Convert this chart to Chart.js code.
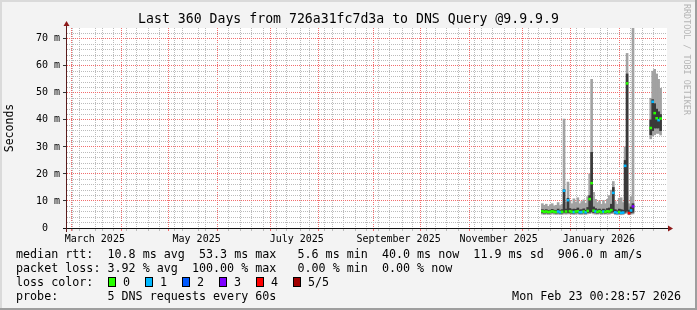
<!DOCTYPE html>
<html>
<head>
<meta charset="utf-8">
<script src="https://cdn.jsdelivr.net/npm/chart.js@4.4.1/dist/chart.umd.min.js"></script>
<style>
  html, body { margin: 0; padding: 0; background: #f3f3f3; }
  #wrap { position: relative; width: 697px; height: 310px; overflow: hidden; font-family: 'DejaVu Sans Mono', monospace; color: #000; }
  #wrap canvas { position: absolute; left: 0; top: 0; }
  .title { position: absolute; left: 0; top: 11px; width: 697px; text-align: center; font-size: 13.2px; line-height: 16px; white-space: pre; }
  .mark { position: absolute; left: 682px; top: 4px; writing-mode: vertical-rl; font-size: 8.4px; line-height: 10px; color: #b4b4b4; white-space: pre; }
  .leg { position: absolute; left: 16px; font-size: 11.7px; line-height: 14px; white-space: pre; }
  .box { position: absolute; width: 6px; height: 8px; border: 1px solid #000; }
  .date { position: absolute; right: 16px; top: 289px; font-size: 11.7px; line-height: 14px; white-space: pre; }
</style>
</head>
<body>
<div id="wrap">
  <canvas id="chart" width="697" height="310"></canvas>
  <div class="title">Last 360 Days from 726a31fc7d3a to DNS Query @9.9.9.9</div>
  <div class="mark">RRDTOOL / TOBI OETIKER</div>
  <div class="leg" style="top:247px">median rtt:  10.8 ms avg  53.3 ms max   5.6 ms min  40.0 ms now  11.9 ms sd  906.0 m am/s</div>
  <div class="leg" style="top:261px">packet loss: 3.92 % avg  100.00 % max   0.00 % min  0.00 % now</div>
  <div class="leg" style="top:275px" id="lossRow">loss color:</div>
  <div class="leg" style="top:289px">probe:       5 DNS requests every 60s</div>
  <div class="date">Mon Feb 23 00:28:57 2026</div>
</div>
<script>
// x axis is in days counted from 2025-02-28 00:00, window = last 360 days
const xMin = 0.78, xMax = 360.78;
const monthStarts = [1, 32, 62, 93, 123, 154, 185, 215, 246, 276, 307, 338];
const labelDays = [15, 77, 138, 200, 261, 322];
const monthLabels = ['March 2025', 'May 2025', 'July 2025', 'September 2025', 'November 2025', 'January 2026'];

// smokeping samples (ms)
const days = [287.6, 288.8, 290.0, 291.2, 292.4, 293.6, 294.8, 296.0, 297.2, 298.4,
  299.6, 300.8, 302.0, 303.2, 304.4, 305.6, 306.8, 308.0, 309.2, 310.4,
  311.6, 312.8, 314.0, 315.2, 316.4, 317.6, 318.8, 320.0, 321.2, 322.4,
  323.6, 324.8, 326.0, 327.2, 328.4, 329.6, 330.8, 332.0, 333.2, 334.4,
  335.6, 336.8, 338.0, 339.2, 340.4, 341.6, 342.8,
  353.6, 354.8, 356.0, 357.2, 358.4, 359.6];
const median = [6.2, 6.0, 6.1, 5.9, 6.0, 6.2, 6.0, 5.9, 6.1, 5.8,
  6.0, 13.8, 6.1, 10.3, 6.2, 6.0, 5.9, 6.1, 6.2, 5.8,
  5.9, 6.1, 5.8, 6.3, 10.7, 16.6, 6.4, 6.1, 6.0, 6.2,
  5.9, 6.1, 6.0, 6.2, 6.1, 6.6, 13.0, 5.8, 5.6, 5.9,
  5.6, 5.7, 23.0, 53.5, 5.5, 6.5, 8.0,
  37.0, 46.7, 42.5, 40.6, 39.9, 40.5];
const loss = [0, 0, 0, 0, 0, 0, 0, 0, 1, 1,
  0, 1, 0, 1, 0, 0, 1, 0, 0, 1,
  1, 0, 1, 0, 0, 0, 0, 1, 0, 0,
  0, 1, 0, 0, 0, 0, 1, 1, 1, 0,
  1, 1, 1, 0, 4, 1, 3,
  0, 1, 0, 0, 1, 0];
const smokeLo = [5.1, 5.0, 5.1, 5.0, 5.0, 5.2, 5.1, 5.0, 5.1, 5.0,
  5.0, 5.2, 5.1, 5.2, 5.2, 5.1, 5.0, 5.1, 5.2, 5.0,
  5.0, 5.1, 5.0, 5.2, 5.3, 5.5, 5.2, 5.1, 5.1, 5.2,
  5.0, 5.1, 5.1, 5.2, 5.1, 5.3, 5.4, 5.0, 4.9, 5.0,
  4.9, 5.0, 5.3, 5.6, 4.9, 5.1, 5.2,
  33.0, 34.0, 34.5, 35.0, 35.0, 34.4];
const smokeHi = [9.0, 8.4, 8.8, 8.0, 8.6, 9.0, 8.2, 8.4, 9.4, 8.3,
  8.8, 40.3, 9.6, 17.0, 10.2, 9.0, 10.8, 9.6, 11.2, 9.0,
  9.8, 10.4, 9.2, 11.6, 20.0, 55.0, 13.2, 10.6, 9.4, 10.0,
  8.8, 10.2, 9.0, 10.6, 12.0, 14.0, 17.2, 9.8, 8.8, 11.0,
  11.2, 9.4, 30.0, 64.6, 9.0, 11.6, 74.0,
  48.0, 58.0, 58.7, 57.0, 55.0, 51.7];
const coreLo = [5.6, 5.5, 5.6, 5.5, 5.6, 5.7, 5.6, 5.5, 5.6, 5.4,
  5.5, 5.8, 5.6, 5.7, 5.6, 5.5, 5.5, 5.6, 5.7, 5.4,
  5.5, 5.6, 5.4, 5.7, 5.8, 6.0, 5.7, 5.6, 5.5, 5.7,
  5.5, 5.6, 5.5, 5.7, 5.6, 5.8, 6.0, 5.4, 5.3, 5.5,
  5.3, 5.4, 5.8, 6.2, 5.2, 5.6, 5.8,
  34.5, 36.0, 37.0, 37.0, 37.0, 36.0];
const coreHi = [6.8, 6.6, 6.8, 6.5, 6.6, 6.9, 6.6, 6.5, 7.0, 6.4,
  6.8, 14.2, 7.0, 11.0, 7.2, 6.8, 7.0, 6.9, 7.4, 6.7,
  6.8, 7.1, 6.6, 7.6, 12.0, 28.0, 7.8, 7.2, 6.8, 7.0,
  6.6, 7.0, 6.7, 7.2, 7.4, 8.8, 15.0, 6.8, 6.4, 7.0,
  6.8, 6.6, 25.0, 57.0, 6.6, 7.8, 9.0,
  40.0, 47.5, 46.0, 44.0, 43.0, 42.0];

const lossColors = ['#26ff00', '#00b8ff', '#0059ff', '#7e00ff', '#ff0000', '#a10000'];
const lossLabels = ['0', '1', '2', '3', '4', '5/5'];

const GRID = '#bbbbbb';
const MGRID = '#f26d6d';
const NONE = 'rgba(0,0,0,0)';

// loss colour legend row
const row = document.getElementById('lossRow');
lossLabels.forEach((lab, i) => {
  const b = document.createElement('span');
  b.className = 'box';
  b.style.left = (92 + 37 * i) + 'px';
  b.style.top = '2px';
  b.style.background = lossColors[i];
  row.appendChild(b);
  const t = document.createElement('span');
  t.style.position = 'absolute';
  t.style.left = (107 + 37 * i) + 'px';
  t.textContent = lab;
  row.appendChild(t);
});

// x ticks: month starts (red), sundays (grey), label positions
const weekDays = new Set();
for (let d = 2; d < xMax; d += 7) weekDays.add(d);
const labelMap = {};
labelDays.forEach((d, i) => { labelMap[d] = monthLabels[i]; });
const xTickValues = Array.from(new Set([...monthStarts, ...weekDays, ...labelDays]))
  .filter(v => v > xMin && v < xMax).sort((a, b) => a - b);

function xGridColor(c) {
  if (!c.tick) return NONE;
  if (monthStarts.includes(c.tick.value)) return MGRID;
  return weekDays.has(c.tick.value) ? GRID : NONE;
}
function yGridColor(c) {
  if (!c.tick) return NONE;
  const v = Math.round(c.tick.value);
  if (v === 74) return NONE;
  return v % 10 === 0 ? MGRID : GRID;
}

const band = (lo, hi) => days.map((d, i) => ({ x: d, y: [lo[i], hi[i]] }));

const framePlugin = {
  id: 'frame',
  beforeDraw(chart) {
    const { ctx, chartArea: a, width, height } = chart;
    ctx.save();
    ctx.fillStyle = '#f3f3f3';
    ctx.fillRect(0, 0, width, height);
    ctx.fillStyle = '#dadada';
    ctx.fillRect(0, 0, width, 2);
    ctx.fillRect(0, 0, 2, height);
    ctx.fillStyle = '#9e9e9e';
    ctx.fillRect(0, height - 2, width, 2);
    ctx.fillRect(width - 2, 0, 2, height);
    ctx.fillStyle = '#ffffff';
    ctx.fillRect(a.left, a.top, a.right - a.left, a.bottom - a.top);
    ctx.restore();
  },
  afterDatasetsDraw(chart) {
    const { ctx, chartArea: a } = chart;
    const yb = a.bottom + 0.5, xl = a.left - 0.5;
    ctx.save();
    ctx.lineWidth = 1;
    ctx.strokeStyle = '#111';
    ctx.beginPath();
    ctx.moveTo(a.left - 4, yb);
    ctx.lineTo(a.right + 2, yb);
    ctx.stroke();
    ctx.strokeStyle = '#5a1c1c';
    ctx.beginPath();
    ctx.moveTo(xl, a.bottom + 4);
    ctx.lineTo(xl, a.top - 2);
    ctx.stroke();
    ctx.fillStyle = '#8e1a1a';
    ctx.beginPath();
    ctx.moveTo(a.right + 6, yb);
    ctx.lineTo(a.right + 1, yb - 3);
    ctx.lineTo(a.right + 1, yb + 3);
    ctx.closePath();
    ctx.fill();
    ctx.beginPath();
    ctx.moveTo(xl, a.top - 7);
    ctx.lineTo(xl - 3, a.top - 2);
    ctx.lineTo(xl + 3, a.top - 2);
    ctx.closePath();
    ctx.fill();
    ctx.restore();
  }
};

const barCommon = { type: 'bar', barThickness: 2, grouped: false, borderWidth: 0 };

new Chart(document.getElementById('chart'), {
  type: 'bar',
  data: {
    datasets: [
      {
        ...barCommon,
        label: 'median',
        order: 0,
        data: days.map((d, i) => ({ x: d, y: [median[i] - 0.35, median[i] + 0.35] })),
        backgroundColor: loss.map(l => lossColors[l])
      },
      {
        ...barCommon,
        label: 'core',
        order: 1,
        data: band(coreLo, coreHi),
        backgroundColor: '#3a3a3a'
      },
      {
        ...barCommon,
        label: 'smoke',
        order: 2,
        data: band(smokeLo, smokeHi),
        backgroundColor: '#a2a2a2'
      }
    ]
  },
  options: {
    responsive: false,
    animation: false,
    layout: { padding: { top: 28, left: 0, right: 30, bottom: 60 } },
    plugins: {
      legend: { display: false },
      tooltip: { enabled: false },
      title: { display: false }
    },
    scales: {
      x: {
        type: 'linear',
        min: xMin,
        max: xMax,
        afterFit: s => { s.height = 22; },
        afterBuildTicks: s => { s.ticks = xTickValues.map(v => ({ value: v })); },
        border: { display: false, dash: [1, 1] },
        grid: {
          drawTicks: true,
          tickLength: 3,
          lineWidth: 1,
          color: xGridColor,
          tickColor: xGridColor
        },
        ticks: {
          autoSkip: false,
          maxRotation: 0,
          minRotation: 0,
          padding: 2,
          color: '#000',
          font: { family: 'DejaVu Sans Mono', size: 10 },
          callback: v => labelMap[v] || ''
        }
      },
      y: {
        min: 0,
        max: 74,
        afterFit: s => { s.width = 67; },
        border: { display: false, dash: [1, 1] },
        grid: {
          tickLength: 4,
          lineWidth: 1,
          color: yGridColor,
          tickColor: c => (c.tick && Math.round(c.tick.value) % 10 === 0) ? '#333' : NONE
        },
        ticks: {
          stepSize: 2,
          autoSkip: false,
          padding: 3,
          color: '#000',
          font: { family: 'DejaVu Sans Mono', size: 10 },
          callback: v => v % 10 === 0 ? (v === 0 ? '0  ' : v + ' m') : ''
        },
        title: {
          display: true,
          text: 'Seconds',
          color: '#000',
          padding: { top: 3, bottom: 0 },
          font: { family: 'DejaVu Sans Mono', size: 11.5 }
        }
      }
    }
  },
  plugins: [framePlugin]
});
</script>
</body>
</html>
